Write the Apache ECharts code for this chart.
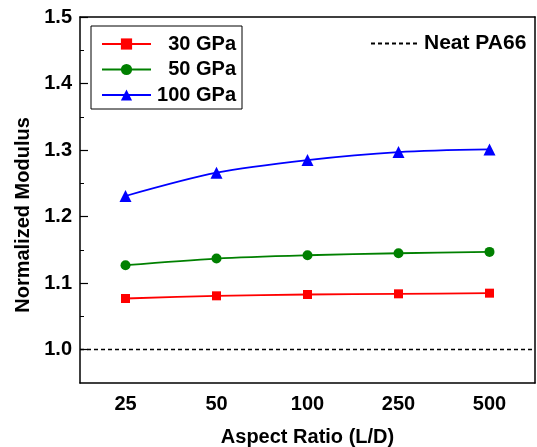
<!DOCTYPE html>
<html>
<head>
<meta charset="utf-8">
<script src="https://cdn.jsdelivr.net/npm/echarts@6/dist/echarts.min.js"></script>
<style>html,body{margin:0;padding:0;background:#fff;}#c{width:537px;height:447px;}</style>
</head>
<body>
<div id="c"></div>
<script>
var categories = ['25', '50', '100', '250', '500'];
var gpa30 = [1.077, 1.081, 1.083, 1.084, 1.085];
var gpa50 = [1.127, 1.137, 1.142, 1.145, 1.147];
var gpa100 = [1.231, 1.266, 1.285, 1.297, 1.301];
var neatValue = 1.0;
var yMajorTicks = [1.0, 1.1, 1.2, 1.3, 1.4, 1.5];
var yMinorTicks = [1.05, 1.15, 1.25, 1.35, 1.45];

var font = 'Liberation Sans, Arial, sans-serif';
var chart = echarts.init(document.getElementById('c'), null, {renderer: 'canvas'});
chart.setOption({
  animation: false,
  backgroundColor: '#fff',
  grid: {left: 80, right: 2, top: 17, bottom: 64, containLabel: false, outerBoundsMode: 'none'},
  legend: [{
    data: ['30 GPa', '50 GPa', '100 GPa'],
    orient: 'vertical',
    left: 91, top: 26,
    padding: [8, 6, 4, 10],
    itemGap: 5.5,
    itemWidth: 49, itemHeight: 14,
    borderColor: '#000', borderWidth: 1,
    formatter: function (n) { return '{a|' + n + '}'; },
    textStyle: {fontFamily: font, fontWeight: 'bold', fontSize: 20, color: '#000',
      rich: {a: {fontFamily: font, fontWeight: 'bold', fontSize: 20, color: '#000', width: 80, align: 'right', lineHeight: 20}}}
  }, {
    data: ['Neat PA66'],
    left: 365, top: 28,
    itemWidth: 46, itemHeight: 10, itemGap: 8,
    itemStyle: {opacity: 0},
    textStyle: {fontFamily: font, fontWeight: 'bold', fontSize: 21, color: '#000', padding: [0, 0, 0, 2]}
  }],
  xAxis: [{
    type: 'category', data: categories, position: 'bottom',
    axisLine: {lineStyle: {color: '#000', width: 1.5}},
    axisTick: {inside: true, alignWithLabel: true, length: 8, lineStyle: {color: '#000', width: 1.2}},
    axisLabel: {fontFamily: font, fontWeight: 'bold', fontSize: 20, color: '#000', margin: 11},
    name: 'Aspect Ratio (L/D)', nameLocation: 'middle', nameGap: 44,
    nameTextStyle: {fontFamily: font, fontWeight: 'bold', fontSize: 20, color: '#000'},
    splitLine: {show: false}
  }, {
    type: 'category', data: categories, position: 'bottom',
    axisLine: {show: false},
    axisTick: {inside: true, alignWithLabel: false, length: 4, lineStyle: {color: '#000', width: 1}},
    axisLabel: {show: false}, splitLine: {show: false}
  }, {
    type: 'category', data: categories, position: 'top',
    axisLine: {lineStyle: {color: '#000', width: 1.5}},
    axisTick: {show: false}, axisLabel: {show: false}, splitLine: {show: false}
  }],
  yAxis: [{
    type: 'value', min: 0.95, max: 1.5, position: 'left',
    axisLine: {show: true, lineStyle: {color: '#000', width: 1.5}},
    axisTick: {show: true, inside: true, length: 8, customValues: yMajorTicks, lineStyle: {color: '#000', width: 1.2}},
    axisLabel: {customValues: yMajorTicks, fontFamily: font, fontWeight: 'bold', fontSize: 20, color: '#000', margin: 8,
      formatter: function (v) { return v.toFixed(1); }},
    splitLine: {show: false},
    name: 'Normalized Modulus', nameLocation: 'middle', nameGap: 46,
    nameTextStyle: {fontFamily: font, fontWeight: 'bold', fontSize: 20, color: '#000', padding: [0, 30, 0, 0]}
  }, {
    type: 'value', min: 0.95, max: 1.5, position: 'left',
    axisLine: {show: false},
    axisTick: {show: true, inside: true, length: 4, customValues: yMinorTicks, lineStyle: {color: '#000', width: 1}},
    axisLabel: {show: false}, splitLine: {show: false}
  }, {
    type: 'value', min: 0.95, max: 1.5, position: 'right',
    axisLine: {show: true, lineStyle: {color: '#000', width: 1.5}},
    axisTick: {show: false}, axisLabel: {show: false}, splitLine: {show: false}
  }],
  series: [{
    name: '30 GPa', type: 'line', data: gpa30, smooth: 0.3,
    symbol: 'rect', symbolSize: 9,
    itemStyle: {color: '#ff0000'}, lineStyle: {color: '#ff0000', width: 1.8}
  }, {
    name: '50 GPa', type: 'line', data: gpa50, smooth: 0.3,
    symbol: 'circle', symbolSize: 10,
    itemStyle: {color: '#008000'}, lineStyle: {color: '#008000', width: 1.8}
  }, {
    name: '100 GPa', type: 'line', data: gpa100, smooth: 0.3,
    symbol: 'triangle', symbolSize: 12,
    itemStyle: {color: '#0000ff'}, lineStyle: {color: '#0000ff', width: 1.8}
  }, {
    name: 'Neat PA66', type: 'line', data: [], symbol: 'none',
    itemStyle: {color: '#000'},
    lineStyle: {color: '#000', width: 1.3, type: [4, 3]},
    markLine: {
      silent: true, symbol: 'none', label: {show: false},
      lineStyle: {color: '#000', width: 1.3, type: [4, 3]},
      data: [{yAxis: neatValue}]
    }
  }]
});
</script>
</body>
</html>
